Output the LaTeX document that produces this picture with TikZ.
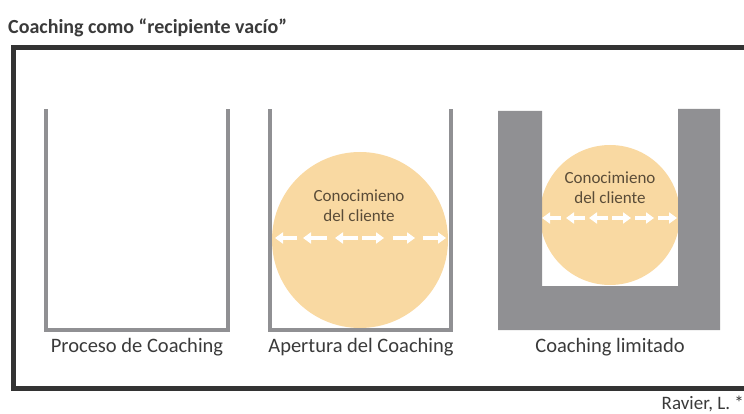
\documentclass[tikz,border=0pt]{standalone}
\usepackage{fontspec}
\setmainfont{Carlito}
\usetikzlibrary{arrows.meta}
\definecolor{wallgray}{HTML}{909093}
\definecolor{knowfill}{HTML}{F9D9A2}
\definecolor{txtgray}{HTML}{3A3A3A}
\definecolor{knowtxt}{HTML}{5A4C38}
\definecolor{framecol}{HTML}{333333}
\tikzset{
  wall/.style={draw=wallgray, line width=4.5pt, line cap=rect},
  knowledge/.style={circle, fill=knowfill, draw=none, inner sep=0pt},
  knowlabel/.style={text=knowtxt, font=\fontsize{17}{20}\selectfont, align=center, inner sep=0pt},
  caption/.style={text=txtgray, font=\fontsize{20.5}{24}\selectfont, inner sep=0pt},
  flowarrow/.style={draw=white, line width=3.4pt, -{Triangle[length=8pt,width=11pt]}},
}
\begin{document}
\begin{tikzpicture}[x=1pt,y=-1pt]
\useasboundingbox (0,0) rectangle (744,414);
\clip (0,0) rectangle (744,414);
% title
\node[anchor=west, inner sep=0pt, text=txtgray, font=\bfseries\fontsize{20}{24}\selectfont] (title) at (8,28) {Coaching como “recipiente vacío”};
% outer frame
\draw[draw=framecol, line width=5pt] (13,48) rectangle (770,388);
% container 1
\draw[wall] (46,111) -- (46,330) -- (228,330) -- (228,111);
% container 2
\node[knowledge, minimum size=176pt] (k2) at (360,240) {};
\draw[wall] (270,111) -- (270,330) -- (451,330) -- (451,111);
\node[knowlabel] (k2a) at (359,196) {Conocimieno};
\node[knowlabel] (k2b) at (359,216) {del cliente};
\coordinate (a1s) at (297,238); \coordinate (a1e) at (275,238);
\coordinate (a2s) at (327,238); \coordinate (a2e) at (303,238);
\coordinate (a3s) at (358,238); \coordinate (a3e) at (335,238);
\coordinate (a4s) at (362,238); \coordinate (a4e) at (384,238);
\coordinate (a5s) at (393,238); \coordinate (a5e) at (415,238);
\coordinate (a6s) at (423,238); \coordinate (a6e) at (446,238);
\foreach \i in {1,...,6} \draw[flowarrow] (a\i s) -- (a\i e);
% container 3
\node[knowledge, minimum size=140pt] (k3) at (610,215) {};
\fill[wallgray] (498,111) -- (542,111) -- (542,286) -- (678,286) -- (678,109) -- (720,109) -- (720,330) -- (498,330) -- cycle;
\node[knowlabel] (k3a) at (610,178) {Conocimieno};
\node[knowlabel] (k3b) at (610,198) {del cliente};
\coordinate (b1s) at (561,218); \coordinate (b1e) at (542,218);
\coordinate (b2s) at (585,218); \coordinate (b2e) at (566,218);
\coordinate (b3s) at (608,218); \coordinate (b3e) at (589,218);
\coordinate (b4s) at (612,218); \coordinate (b4e) at (631,218);
\coordinate (b5s) at (635,218); \coordinate (b5e) at (654,218);
\coordinate (b6s) at (658,218); \coordinate (b6e) at (677,218);
\foreach \i in {1,...,6} \draw[flowarrow] (b\i s) -- (b\i e);
% captions
\node[caption] (c1) at (137,347) {Proceso de Coaching};
\node[caption] (c2) at (361,347) {Apertura del Coaching};
\node[caption] (c3) at (610,347) {Coaching limitado};
% source
\node[anchor=east, inner sep=0pt, text=txtgray, font=\fontsize{19}{22}\selectfont] (src) at (744,404) {Ravier, L. *};
\end{tikzpicture}
\end{document}
